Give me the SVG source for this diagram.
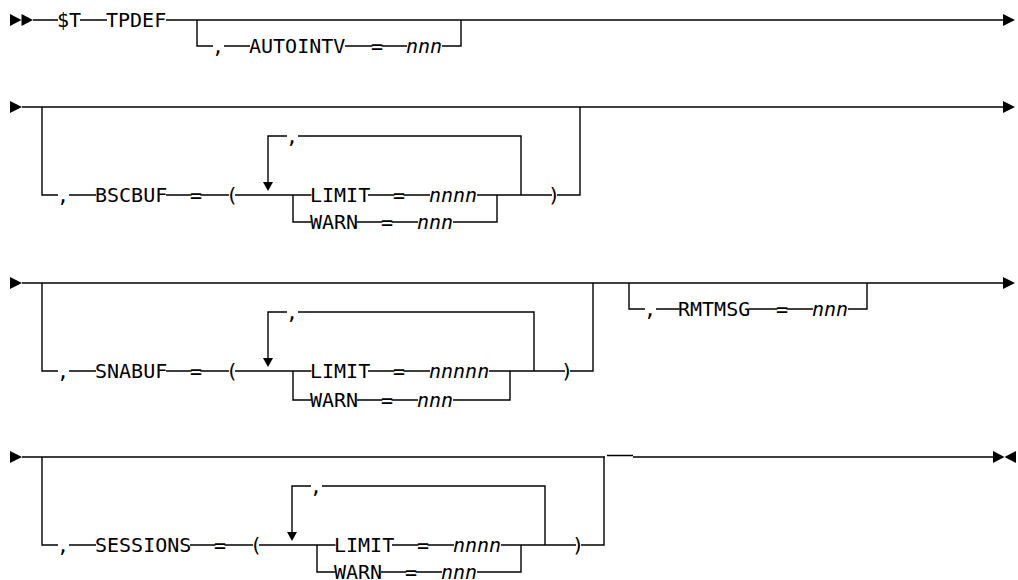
<svg xmlns="http://www.w3.org/2000/svg" width="1018" height="580" viewBox="0 0 1018 580">
<style>
.l{fill:none;stroke:#000;stroke-width:1.4}
.a{fill:#000}
text{font-family:"DejaVu Sans Mono","Liberation Mono",monospace;font-size:20px;fill:#000}
.v{font-style:italic}
</style>
<rect width="1018" height="580" fill="#fff"/>
<g id="connectors">
<!-- row 1 -->
<polygon class="a" points="10,14 21.5,20 10,26"/>
<polygon class="a" points="21.5,14 33,20 21.5,26"/>
<path class="l" d="M33,20H58M80,20H107M166,20H1003"/>
<polygon class="a" points="1003,14 1015,20 1003,26"/>
<path class="l" d="M197,20V46H213M224,46H250M345,46H372.5M381.5,46H407M442,46H461V20"/>
<!-- row 2 -->
<polygon class="a" points="10,101 22,107 10,113"/>
<path class="l" d="M22,107H1003"/>
<polygon class="a" points="1003,101 1015,107 1003,113"/>
<path class="l" d="M42,107V195H58M69,195H96M166,195H191.5M200.5,195H229M235,195H311.5M368,195H394.5M403.5,195H430M477,195H552M557,195H580V107"/>
<path class="l" d="M293,195V222H311.5M357,222H382.5M391.5,222H418M453,222H497V195"/>
<path class="l" d="M521,195V136H298M287,136H268V182"/>
<polygon class="a" points="263,182 273,182 268,191"/>
<!-- row 3 -->
<polygon class="a" points="10,277 22,283 10,289"/>
<path class="l" d="M22,283H1003"/>
<polygon class="a" points="1003,277 1015,283 1003,289"/>
<path class="l" d="M42,283V371H58M69,371H96M166,371H191.5M200.5,371H229M235,371H311.5M368,371H394.5M403.5,371H430M489,371H565M570,371H593V283"/>
<path class="l" d="M293,371V400H311.5M357,400H382.5M391.5,400H418M453,400H510V371"/>
<path class="l" d="M534,371V312H298M287,312H268V358"/>
<polygon class="a" points="263,358 273,358 268,367"/>
<path class="l" d="M629,283V309H645M656,309H679.5M749,309H777.5M786.5,309H813M848,309H867V283"/>
<!-- row 4 -->
<polygon class="a" points="10,451 22,457 10,463"/>
<path class="l" d="M22,457H605M607,455.5H633M633,457H993"/>
<polygon class="a" points="993,451 1004.5,457 993,463"/>
<polygon class="a" points="1016,451 1004.5,457 1016,463"/>
<path class="l" d="M42,457V545H58M69,545H96M190,545H215.5M224.5,545H253M259,545H335.5M392,545H418.5M427.5,545H454M501,545H576M581,545H604V457"/>
<path class="l" d="M317,545V572H335.5M381,572H406.5M415.5,572H442M477,572H521V545"/>
<path class="l" d="M545,545V486H322M311,486H292V532"/>
<polygon class="a" points="287,532 297,532 292,541"/>
</g>
<g id="n-start"><text x="57" y="27">$T</text><text x="106" y="27">TPDEF</text></g>
<g id="n-autointv"><text x="212" y="53">,</text><text x="249" y="53">AUTOINTV</text><text x="371" y="53">=</text><text class="v" x="406" y="53">nnn</text></g>
<g id="n-bscbuf">
<text x="57" y="202">,</text><text x="95" y="202">BSCBUF</text><text x="190" y="202">=</text><text x="226" y="202">(</text>
<text x="286" y="143">,</text>
<text x="310" y="202">LIMIT</text><text x="393" y="202">=</text><text class="v" x="429" y="202">nnnn</text>
<text x="310" y="229">WARN</text><text x="381" y="229">=</text><text class="v" x="417" y="229">nnn</text>
<text x="548" y="202">)</text>
</g>
<g id="n-snabuf">
<text x="57" y="378">,</text><text x="95" y="378">SNABUF</text><text x="190" y="378">=</text><text x="226" y="378">(</text>
<text x="286" y="319">,</text>
<text x="310" y="378">LIMIT</text><text x="393" y="378">=</text><text class="v" x="429" y="378">nnnnn</text>
<text x="310" y="407">WARN</text><text x="381" y="407">=</text><text class="v" x="417" y="407">nnn</text>
<text x="561" y="378">)</text>
</g>
<g id="n-rmtmsg"><text x="644" y="316">,</text><text x="678" y="316">RMTMSG</text><text x="776" y="316">=</text><text class="v" x="812" y="316">nnn</text></g>
<g id="n-sessions">
<text x="57" y="552">,</text><text x="95" y="552">SESSIONS</text><text x="214" y="552">=</text><text x="250" y="552">(</text>
<text x="310" y="493">,</text>
<text x="334" y="552">LIMIT</text><text x="417" y="552">=</text><text class="v" x="453" y="552">nnnn</text>
<text x="334" y="579">WARN</text><text x="405" y="579">=</text><text class="v" x="441" y="579">nnn</text>
<text x="572" y="552">)</text>
</g>
</svg>
